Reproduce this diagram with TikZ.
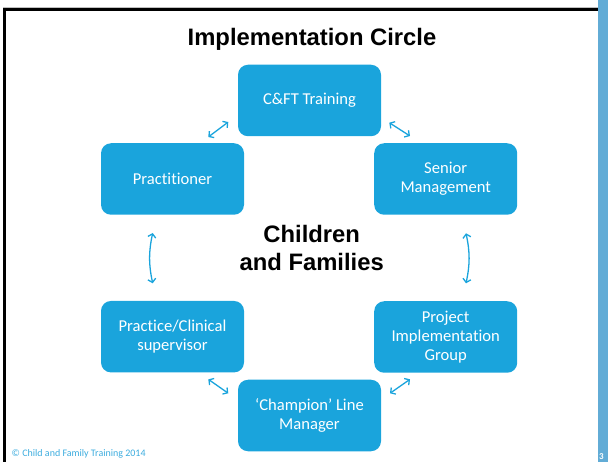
\documentclass[tikz,border=0pt]{standalone}
\usepackage{fontspec}
\setmainfont[Ligatures={TeX,NoCommon,NoContextual}]{Carlito}
\newfontfamily\titlefont{Liberation Sans}
\usepackage{tikz}
\usetikzlibrary{calc,arrows.meta}
\definecolor{boxblue}{RGB}{26,164,220}
\definecolor{stripblue}{RGB}{98,172,214}
\definecolor{footblue}{RGB}{60,172,222}

\begin{document}
\begin{tikzpicture}[x=1pt,y=-1pt,
    stagebox/.style={rectangle,rounded corners=10pt,fill=boxblue,text=white,minimum width=143pt,minimum height=71.5pt,align=center,inner sep=2pt,font=\fontsize{16.6}{19}\selectfont},
    twoway/.style={{Straight Barb[length=3.5pt,width=8pt]}-{Straight Barb[length=3.5pt,width=8pt]},draw=boxblue,line width=1.3pt}]
                      \useasboundingbox (0,0) rectangle (608,462);
                      \fill[stripblue] (597.5,0) rectangle (608,462);
                      \draw[gray!50,line width=1pt] (3,7.5) -- (597.5,7.5);
                      \draw[black,line width=2.5pt] (4.5,462) -- (4.5,9.5) -- (597.5,9.5);
                      \node[font=\titlefont\bfseries\fontsize{23.8}{28}\selectfont](title)at(312,39){Implementation Circle};
                      \node[font=\titlefont\bfseries\fontsize{23.8}{27.4}\selectfont,align=center](kids)at(311.7,248){Children\\and Families};
                      \node[stagebox](train)at(309.5,100.5){C\&FT Training};
                      \node[stagebox](prac)at(172.5,179){Practitioner};
                      \node[stagebox](senior)at(445.7,179){Senior\\Management};
                      \node[stagebox](super)at(172.5,336.7){Practice/Clinical\\supervisor};
                      \node[stagebox](project)at(445.7,337){Project\\Implementation\\Group};
                      \node[stagebox](champ)at(309.5,415.5){‘Champion’ Line\\Manager};
                      % arrow ends
                      \coordinate (pt1)at(208.3,137); \coordinate (pt2)at(228.3,122);
                      \coordinate (ps1)at(389.3,122.7); \coordinate (ps2)at(410,136);
                      \coordinate (lv1)at(152.7,233); \coordinate (lv2)at(152.7,283.3);
                      \coordinate (rv1)at(466,233.3); \coordinate (rv2)at(466,283.3);
                      \coordinate (sc1)at(208.3,379.3); \coordinate (sc2)at(228.3,393.3);
                      \coordinate (pc1)at(410,379.3); \coordinate (pc2)at(390,393.3);
                      \draw[twoway](pt1)--(pt2);
                      \draw[twoway](ps1)--(ps2);
                      \draw[twoway](lv1)to[bend right=12](lv2);
                      \draw[twoway](rv1)to[bend left=12](rv2);
                      \draw[twoway](sc1)--(sc2);
                      \draw[twoway](pc1)--(pc2);
                      \node[anchor=base west,text=footblue,font=\fontsize{10}{12}\selectfont,inner sep=0](copy)at(11.5,456){© Child and Family Training 2014};
                      \node[anchor=base west,text=white,font=\bfseries\fontsize{9}{11}\selectfont,inner sep=0](pagenum)at(599,459.5){3};
                  \end{tikzpicture}
\end{document}
